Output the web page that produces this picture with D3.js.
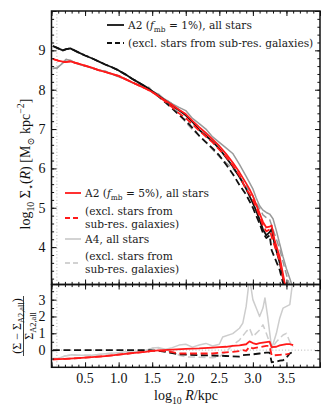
<!DOCTYPE html>
<html><head><meta charset="utf-8">
<script src="https://cdn.jsdelivr.net/npm/d3@7"></script>
<style>
body{margin:0;background:#fff}
svg{display:block}
text{font-family:"Liberation Serif","DejaVu Serif",serif;fill:#111}
text.leg{font-family:"DejaVu Serif","Liberation Serif",serif;fill:#1a1a1a}
</style></head><body>
<script>
// ---------------- data ----------------
// main panel: log10 R/kpc  vs  log10 Sigma
const a2f1R = [0.02,0.1,0.17,0.22,0.28,0.4,0.5,0.6,0.7,0.8,0.9,1.0,1.1,1.2,1.3,1.4,1.5,1.6,1.7,1.8,1.9,2.0,2.1,2.2,2.3,2.4,2.5,2.6,2.7,2.8,2.9,3.0,3.05,3.1,3.15,3.2,3.25,3.28,3.32,3.4,3.47,3.52];
const a2f1All = [9.11,9.05,9.0,9.03,9.05,8.95,8.87,8.8,8.72,8.64,8.57,8.49,8.39,8.28,8.18,8.08,7.96,7.84,7.72,7.60,7.48,7.35,7.18,6.98,6.83,6.68,6.50,6.28,6.05,5.78,5.48,5.12,4.92,4.70,4.45,4.30,4.38,4.46,4.1,3.6,3.05,2.7];
const a2f1Excl = [9.11,9.05,9.0,9.03,9.05,8.95,8.87,8.8,8.72,8.64,8.57,8.49,8.39,8.28,8.18,8.08,7.95,7.82,7.67,7.52,7.36,7.21,7.03,6.83,6.67,6.51,6.33,6.10,5.86,5.58,5.33,5.0,4.80,4.60,4.36,4.23,4.30,3.92,3.75,3.42,2.95,2.65];
const a2f5R = [0.02,0.1,0.2,0.28,0.4,0.5,0.6,0.7,0.8,0.9,1.0,1.1,1.2,1.3,1.4,1.5,1.6,1.7,1.8,1.9,2.0,2.1,2.2,2.3,2.4,2.5,2.6,2.7,2.8,2.9,2.95,3.0,3.05,3.1,3.15,3.2,3.25,3.28,3.32,3.4,3.47,3.52];
const a2f5All = [8.78,8.74,8.70,8.72,8.66,8.61,8.56,8.50,8.45,8.40,8.35,8.27,8.19,8.11,8.03,7.94,7.83,7.72,7.61,7.49,7.38,7.21,7.05,6.90,6.74,6.57,6.37,6.15,5.90,5.62,5.47,5.30,5.08,4.86,4.64,4.50,4.52,4.55,4.2,3.75,3.12,2.8];
const a2f5Excl = [8.78,8.74,8.70,8.72,8.66,8.61,8.56,8.50,8.45,8.40,8.35,8.27,8.19,8.11,8.03,7.94,7.83,7.69,7.55,7.40,7.28,7.12,6.96,6.81,6.66,6.48,6.30,6.08,5.82,5.46,5.36,5.20,5.00,4.78,4.55,4.40,4.45,4.26,4.05,3.65,3.05,2.7];
const a4R = [0.02,0.08,0.15,0.22,0.28,0.35,0.5,0.6,0.7,0.8,0.9,1.0,1.1,1.2,1.3,1.4,1.45,1.5,1.6,1.65,1.7,1.8,1.9,2.0,2.1,2.2,2.3,2.4,2.5,2.6,2.7,2.8,2.9,3.0,3.05,3.1,3.15,3.2,3.25,3.3,3.35,3.4,3.45,3.5,3.55,3.6];
const a4All = [8.54,8.55,8.65,8.77,8.75,8.68,8.60,8.55,8.50,8.47,8.40,8.33,8.27,8.18,8.12,8.05,8.06,7.96,7.88,7.80,7.75,7.64,7.55,7.47,7.27,7.14,7.0,6.80,6.66,6.52,6.38,6.10,5.80,5.48,5.25,5.05,4.94,4.88,4.84,4.72,4.42,4.08,3.75,3.45,3.2,2.95];
const a4Excl = [8.54,8.55,8.65,8.77,8.75,8.68,8.60,8.55,8.50,8.47,8.40,8.33,8.27,8.18,8.12,8.05,8.06,7.96,7.88,7.80,7.75,7.64,7.38,7.17,6.99,6.83,6.66,6.48,6.30,6.14,6.0,5.80,5.55,5.30,5.12,4.98,4.82,4.75,4.70,4.45,4.2,3.95,3.62,3.3,3.02,2.8];

// lower panel: (Sigma - Sigma_A2,all) / Sigma_A2,all
const relA2f5AllR = [0.02,0.2,0.4,0.6,0.8,1.0,1.2,1.4,1.5,1.6,1.8,2.0,2.2,2.4,2.5,2.6,2.7,2.8,2.9,2.95,3.0,3.05,3.1,3.2,3.25,3.28,3.35,3.4,3.5,3.55,3.6];
const relA2f5All = [-0.55,-0.52,-0.47,-0.42,-0.35,-0.27,-0.18,-0.1,-0.05,-0.02,0.03,0.07,0.1,0.15,0.18,0.2,0.25,0.28,0.35,0.52,0.42,0.36,0.42,0.48,0.5,0.18,0.2,0.28,0.36,0.36,0.3];
const relA2f5ExclR = [0.02,0.2,0.4,0.6,0.8,1.0,1.2,1.4,1.5,1.6,1.7,1.8,1.9,2.0,2.2,2.4,2.5,2.6,2.7,2.8,2.85,2.9,2.95,3.0,3.1,3.2,3.25,3.28,3.4,3.5,3.55];
const relA2f5Excl = [-0.55,-0.52,-0.47,-0.42,-0.35,-0.27,-0.18,-0.1,-0.05,-0.03,-0.06,-0.12,-0.2,-0.2,-0.2,-0.2,-0.16,-0.13,-0.1,-0.06,0.0,-0.04,0.2,0.1,0.18,0.25,0.25,-0.32,-0.28,-0.25,-0.2];
const relA2f1ExclR = [0.02,0.4,0.8,1.2,1.4,1.5,1.6,1.7,1.8,1.9,2.0,2.2,2.4,2.6,2.8,2.85,2.9,3.0,3.1,3.2,3.25,3.28,3.35,3.4,3.45,3.5,3.55,3.6];
const relA2f1Excl = [0,0,0,0,0,-0.02,-0.05,-0.1,-0.18,-0.25,-0.27,-0.3,-0.32,-0.35,-0.38,-0.3,-0.28,-0.25,-0.2,-0.15,-0.15,-0.72,-0.68,-0.62,-0.6,-0.45,-0.2,-0.1];
const relA4AllR = [0.02,0.1,0.2,0.3,0.4,0.6,0.8,1.0,1.1,1.2,1.3,1.4,1.5,1.6,1.7,1.8,1.9,2.0,2.1,2.2,2.3,2.4,2.5,2.55,2.7,2.8,2.85,2.9,2.95,3.0,3.05,3.1,3.15,3.18,3.22,3.28,3.35,3.4,3.45,3.5,3.55,3.6];
const relA4All = [-0.5,-0.5,-0.35,-0.28,-0.3,-0.3,-0.22,-0.15,-0.1,-0.12,-0.05,-0.02,0.12,0.15,0.05,0.15,0.3,0.35,0.18,0.3,0.4,0.25,0.35,0.78,0.98,1.3,1.6,2.6,4.3,3.0,2.5,2.0,2.5,3.1,2.0,0.1,1.0,1.9,2.5,2.6,2.7,4.3];
const relA4ExclR = [0.02,0.1,0.2,0.3,0.4,0.6,0.8,1.0,1.1,1.2,1.3,1.4,1.5,1.6,1.7,1.8,1.9,2.0,2.2,2.4,2.5,2.6,2.7,2.8,2.9,2.95,3.0,3.1,3.15,3.2,3.28,3.35,3.45,3.5,3.55,3.6];
const relA4Excl = [-0.5,-0.5,-0.35,-0.28,-0.3,-0.3,-0.22,-0.15,-0.1,-0.12,-0.05,-0.02,0.1,0.12,0.0,-0.1,-0.3,-0.4,-0.42,-0.45,-0.4,-0.1,0.3,0.6,1.1,1.3,0.8,1.2,1.5,1.0,0.1,0.5,0.9,1.0,0.5,0.2];

// ticks
const xTickLabels = ["0.5","1.0","1.5","2.0","2.5","3.0","3.5"];
const mainYTicks = [4,5,6,7,8,9];
const lowYTicks = [0,1,2,3];
const softeningLogR = 0.08;

// ---------------- layout ----------------
const W = 330, H = 414;
const L = 51.5, R = 320, T = 11, MID = 284.5, B = 367.3;

const svg = d3.select("body").append("svg").attr("width", W).attr("height", H);

const x = d3.scaleLinear().domain([0, 4.0]).range([L, R]);
const yM = d3.scaleLinear().domain([3.05, 10]).range([MID, T]);
const yL = d3.scaleLinear().domain([-1.02, 3.9]).range([B, MID]);

const defs = svg.append("defs");
defs.append("clipPath").attr("id","cm").append("rect").attr("x",L).attr("y",T).attr("width",R-L).attr("height",MID-T);
defs.append("clipPath").attr("id","cl").append("rect").attr("x",L).attr("y",MID).attr("width",R-L).attr("height",B-MID);

const BLACK="#111", RED="#ff1a1a", GREY_M="#9a9a9a", GREY_L="#cdcdcd", GREY_LEG="#c4c4c4";
const DASH="7,3.6";

function zip(a,b){ return a.map((v,i)=>[v,b[i]]); }

// reference lines
const gm = svg.append("g").attr("clip-path","url(#cm)");
const gl = svg.append("g").attr("clip-path","url(#cl)");
gm.append("line").attr("x1",x(softeningLogR)).attr("x2",x(softeningLogR)).attr("y1",T).attr("y2",MID)
  .attr("stroke","#b5b5b5").attr("stroke-width",1).attr("stroke-dasharray","1,2.2");
gl.append("line").attr("x1",x(softeningLogR)).attr("x2",x(softeningLogR)).attr("y1",MID).attr("y2",B)
  .attr("stroke","#b5b5b5").attr("stroke-width",1).attr("stroke-dasharray","1,2.2");
gl.append("line").attr("x1",L).attr("x2",R).attr("y1",yL(0)).attr("y2",yL(0))
  .attr("stroke","#b5b5b5").attr("stroke-width",1).attr("stroke-dasharray","1,2.2");

const lineM = d3.line().x(d=>x(d[0])).y(d=>yM(d[1]));
const lineL = d3.line().x(d=>x(d[0])).y(d=>yL(d[1]));

function path(g, gen, data, color, w, dash){
  const p = g.append("path").attr("d", gen(data)).attr("fill","none")
    .attr("stroke", color).attr("stroke-width", w).attr("stroke-linejoin","round");
  if (dash) p.attr("stroke-dasharray", dash);
}

// main panel series
path(gm, lineM, zip(a4R,a4Excl), GREY_M, 1.5, DASH);
path(gm, lineM, zip(a4R,a4All), GREY_M, 1.5);
path(gm, lineM, zip(a2f1R,a2f1Excl), BLACK, 1.8, DASH);
path(gm, lineM, zip(a2f1R,a2f1All), BLACK, 1.8);
path(gm, lineM, zip(a2f5R,a2f5Excl), RED, 1.8, DASH);
path(gm, lineM, zip(a2f5R,a2f5All), RED, 1.8);

// lower panel series
path(gl, lineL, zip(relA4ExclR,relA4Excl), GREY_L, 1.5, DASH);
path(gl, lineL, zip(relA4AllR,relA4All), GREY_L, 1.5);
path(gl, lineL, zip(relA2f1ExclR,relA2f1Excl), BLACK, 1.8, DASH);
path(gl, lineL, zip(relA2f5ExclR,relA2f5Excl), RED, 1.8, DASH);
path(gl, lineL, zip(relA2f5AllR,relA2f5All), RED, 1.8);

// ---------------- axes / ticks ----------------
const xMajor = d3.range(0, 4.001, 0.5);
const xMinor = d3.range(0, 4.001, 0.1);
function tickAxis(axisFn, scale, vals, len, tr){
  const a = axisFn(scale).tickValues(vals).tickSize(-len).tickFormat("");
  const g = svg.append("g").attr("transform", tr).call(a);
  g.select(".domain").remove();
  g.selectAll("line").attr("stroke","#111").attr("stroke-width",1);
  return g;
}
// x ticks on top, middle (both directions), bottom
[[d3.axisTop, T],[d3.axisBottom, MID],[d3.axisTop, MID],[d3.axisBottom, B]].forEach(([fn, yy])=>{
  tickAxis(fn, x, xMajor, 5, `translate(0,${yy})`);
  tickAxis(fn, x, xMinor, 2.6, `translate(0,${yy})`);
});
// y ticks main
tickAxis(d3.axisLeft, yM, d3.range(4,10.01,1), 5, `translate(${L},0)`);
tickAxis(d3.axisLeft, yM, d3.range(3.2,10.01,0.2), 2.6, `translate(${L},0)`);
tickAxis(d3.axisRight, yM, d3.range(4,10.01,1), 5, `translate(${R},0)`);
tickAxis(d3.axisRight, yM, d3.range(3.2,10.01,0.2), 2.6, `translate(${R},0)`);
// y ticks lower
tickAxis(d3.axisLeft, yL, [0,1,2,3], 5, `translate(${L},0)`);
tickAxis(d3.axisLeft, yL, d3.range(-0.5,3.9,0.5), 2.6, `translate(${L},0)`);
tickAxis(d3.axisRight, yL, [0,1,2,3], 5, `translate(${R},0)`);
tickAxis(d3.axisRight, yL, d3.range(-0.5,3.9,0.5), 2.6, `translate(${R},0)`);

// frames
svg.append("rect").attr("x",L).attr("y",T).attr("width",R-L).attr("height",MID-T)
  .attr("fill","none").attr("stroke","#111").attr("stroke-width",1.5);
svg.append("rect").attr("x",L).attr("y",MID).attr("width",R-L).attr("height",B-MID)
  .attr("fill","none").attr("stroke","#111").attr("stroke-width",1.5);

// tick labels
const FS = 14;
svg.append("g").selectAll("text").data(xTickLabels).join("text")
  .attr("x", d=>x(+d)).attr("y", B+16).attr("text-anchor","middle").attr("font-size",FS).text(d=>d);
svg.append("g").selectAll("text").data(mainYTicks).join("text")
  .attr("x", L-6).attr("y", d=>yM(d)+5).attr("text-anchor","end").attr("font-size",FS).text(d=>d);
svg.append("g").selectAll("text").data(lowYTicks).join("text")
  .attr("x", L-6).attr("y", d=>yL(d)+5).attr("text-anchor","end").attr("font-size",FS).text(d=>d);

// rich text helper
function rich(sel, parts, fs){
  let cur = 0;
  parts.forEach(p=>{
    const s = p.sub ? fs*0.3 : (p.sup ? -fs*0.4 : 0);
    const ts = sel.append("tspan").text(p.t).attr("dy", (s-cur).toFixed(2));
    cur = s;
    if (p.sub || p.sup) ts.attr("font-size", (fs*0.7).toFixed(2));
    if (p.it) ts.attr("font-style","italic");
  });
  return sel;
}

// axis labels
rich(svg.append("text").attr("x",186).attr("y",400).attr("text-anchor","middle").attr("font-size",FS),
  [{t:"log"},{t:"10",sub:true},{t:" "},{t:"R",it:true},{t:"/kpc"}], FS);

rich(svg.append("text").attr("transform","translate(30,164) rotate(-90)").attr("text-anchor","middle").attr("font-size",FS),
  [{t:"log"},{t:"10",sub:true},{t:" Σ"},{t:"⋆",sub:true},{t:"("},{t:"R",it:true},{t:") [M"},{t:"⊙",sub:true},{t:" kpc"},{t:"−2",sup:true},{t:"]"}], FS);

// lower y label (fraction)
const FF = 12;
rich(svg.append("text").attr("transform","translate(20.5,326) rotate(-90)").attr("text-anchor","middle").attr("font-size",FF),
  [{t:"(Σ − Σ"},{t:"A2,all",sub:true},{t:")"}], FF);
svg.append("line").attr("x1",23.5).attr("x2",23.5).attr("y1",296).attr("y2",356).attr("stroke","#111").attr("stroke-width",0.8);
rich(svg.append("text").attr("transform","translate(32.5,326) rotate(-90)").attr("text-anchor","middle").attr("font-size",FF),
  [{t:"Σ"},{t:"A2,all",sub:true}], FF);

// ---------------- legends ----------------
const LF = 10.6;
function legLine(x1,x2,y,color,dash,w){
  const l = svg.append("line").attr("x1",x1).attr("x2",x2).attr("y1",y).attr("y2",y)
    .attr("stroke",color).attr("stroke-width",w||1.8);
  if (dash) l.attr("stroke-dasharray", dash);
}
function legText(xx, yy, parts){
  return rich(svg.append("text").attr("class","leg").attr("x",xx).attr("y",yy).attr("font-size",LF), parts, LF);
}
// top-right legend
legLine(107,124,25,BLACK);
legText(128,29,[{t:"A2 ("},{t:"f",it:true},{t:"mb",sub:true},{t:" = 1%), all stars"}]);
legLine(107,124,43,BLACK,"5,3");
legText(128,47,[{t:"(excl. stars from sub-res. galaxies)"}]);

// lower-left legend
legLine(65,81,193,RED);
legText(85,197,[{t:"A2 ("},{t:"f",it:true},{t:"mb",sub:true},{t:" = 5%), all stars"}]);
legLine(65,81,218,RED,"5,3");
legText(85,215,[{t:"(excl. stars from"}]);
legText(85,228,[{t:"sub-res. galaxies)"}]);
legLine(65,81,239,GREY_LEG,null,1.5);
legText(85,243,[{t:"A4, all stars"}]);
legLine(65,81,263,GREY_LEG,"5,3",1.5);
legText(85,260,[{t:"(excl. stars from"}]);
legText(85,273,[{t:"sub-res. galaxies)"}]);
</script>
</body></html>
